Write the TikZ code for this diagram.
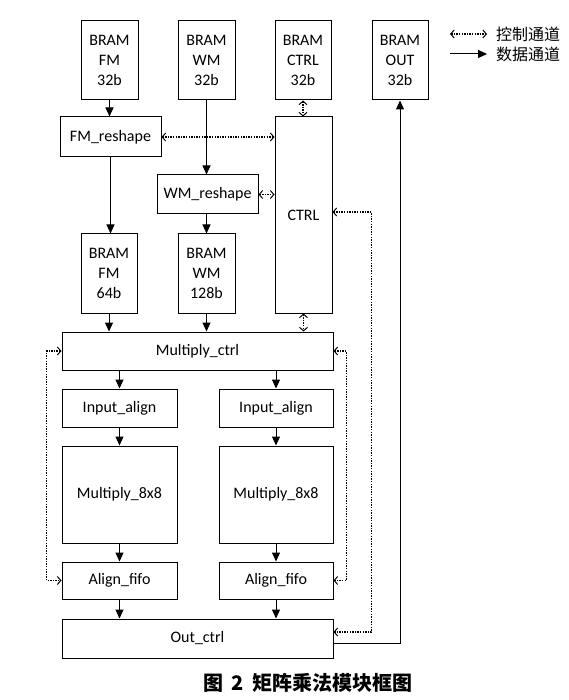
\documentclass[tikz,border=0pt]{standalone}
\usepackage{fontspec}
\setmainfont{Carlito}
\newfontfamily\cjk{Noto Sans CJK SC}
\usetikzlibrary{arrows.meta,calc}
\begin{document}
\begin{tikzpicture}[x=1pt,y=-1pt,
  box/.style={draw, line width=1pt, align=center, inner sep=0pt, font=\fontsize{16}{20}\selectfont},
  data/.style={line width=1pt, -{Triangle[length=9pt,width=8pt]}},
  ctl/.style={line width=1.2pt, dash pattern=on 1.4pt off 1.2pt, {Straight Barb[length=3.5pt,width=8pt,line width=1pt]}-{Straight Barb[length=3.5pt,width=8pt,line width=1pt]}},
]
\useasboundingbox (0,0) rectangle (568,700);
% top BRAMs
\node[box, minimum width=57pt, minimum height=79pt] (bfm32) at (109.5,60.5) {BRAM\\FM\\32b};
\node[box, minimum width=57pt, minimum height=79pt] (bwm32) at (206.5,60.5) {BRAM\\WM\\32b};
\node[box, minimum width=56pt, minimum height=79pt] (bctrl32) at (303,60.5) {BRAM\\CTRL\\32b};
\node[box, minimum width=56pt, minimum height=79pt] (bout32) at (400,60.5) {BRAM\\OUT\\32b};
% reshape and ctrl
\node[box, minimum width=101pt, minimum height=40pt] (fmr) at (110.5,137) {FM\_reshape};
\node[box, minimum width=101pt, minimum height=39pt] (wmr) at (207.5,194.5) {WM\_reshape};
\node[box, minimum width=57pt, minimum height=196pt] (ctrl) at (303.5,215) {CTRL};
% second BRAMs
\node[box, minimum width=56pt, minimum height=79pt] (bfm64) at (109,273.5) {BRAM\\FM\\64b};
\node[box, minimum width=57pt, minimum height=79pt] (bwm128) at (206.5,273.5) {BRAM\\WM\\128b};
% multiply
\node[box, minimum width=271pt, minimum height=38pt] (mctrl) at (197.5,351) {Multiply\_ctrl};
\node[box, minimum width=115pt, minimum height=38pt] (ia1) at (119.5,408) {Input\_align};
\node[box, minimum width=114pt, minimum height=38pt] (ia2) at (276,408) {Input\_align};
\node[box, minimum width=115pt, minimum height=97pt] (m1) at (119.5,494.5) {Multiply\_8x8};
\node[box, minimum width=114pt, minimum height=97pt] (m2) at (276,494.5) {Multiply\_8x8};
\node[box, minimum width=115pt, minimum height=37pt] (af1) at (119.5,580.5) {Align\_fifo};
\node[box, minimum width=114pt, minimum height=37pt] (af2) at (276,580.5) {Align\_fifo};
\node[box, minimum width=271pt, minimum height=39pt] (oc) at (197.5,638.5) {Out\_ctrl};
% data paths
\draw[data] (bfm32.south) -- (bfm32.south |- fmr.north);
\draw[data] (fmr.south) -- (fmr.south |- bfm64.north);
\draw[data] (bwm32.south) -- (bwm32.south |- wmr.north);
\draw[data] (wmr.south -| bwm128.north) -- (bwm128.north);
\draw[data] (bfm64.south) -- (bfm64.south |- mctrl.north);
\draw[data] (bwm128.south) -- (bwm128.south |- mctrl.north);
\draw[data] (mctrl.south -| ia1.north) -- (ia1.north);
\draw[data] (mctrl.south -| ia2.north) -- (ia2.north);
\draw[data] (ia1.south) -- (m1.north);
\draw[data] (ia2.south) -- (m2.north);
\draw[data] (m1.south) -- (af1.north);
\draw[data] (m2.south) -- (af2.north);
\draw[data] (af1.south) -- (af1.south |- oc.north);
\draw[data] (af2.south) -- (af2.south |- oc.north);
\draw[data] ([yshift=-4.5pt]oc.east) -| (bout32.south);
% control paths
\draw[ctl] (fmr.east) -- (fmr.east -| ctrl.west);
\draw[ctl] (wmr.east) -- (wmr.east -| ctrl.west);
\draw[ctl] (bctrl32.south) -- (bctrl32.south |- ctrl.north);
\draw[ctl] (ctrl.south) -- (ctrl.south |- mctrl.north);
\draw[ctl] (mctrl.west) -- ++(-15,0) |- (af1.west);
\draw[ctl] (mctrl.east) -- ++(13,0) |- (af2.east);
\draw[ctl] ([yshift=3pt]ctrl.east) -- ++(39,0) |- ([yshift=6.5pt]oc.east);
% legend
\coordinate (l1a) at (450,34);
\coordinate (l1b) at (487,34);
\coordinate (l2a) at (450,54);
\coordinate (l2b) at (487,54);
\draw[ctl] (l1a) -- (l1b);
\draw[data] (l2a) -- (l2b);
\node[anchor=west, inner sep=0pt, font=\cjk\fontsize{16}{16}\selectfont] (lt1) at (496,34) {控制通道};
\node[anchor=west, inner sep=0pt, font=\cjk\fontsize{16}{16}\selectfont] (lt2) at (496,54) {数据通道};
% caption
\node[anchor=west, inner sep=0pt, font=\cjk\bfseries\fontsize{20}{20}\selectfont] (cap) at (203,683) {图\hspace{8pt}2\hspace{9pt}矩阵乘法模块框图};
\end{tikzpicture}
\end{document}
